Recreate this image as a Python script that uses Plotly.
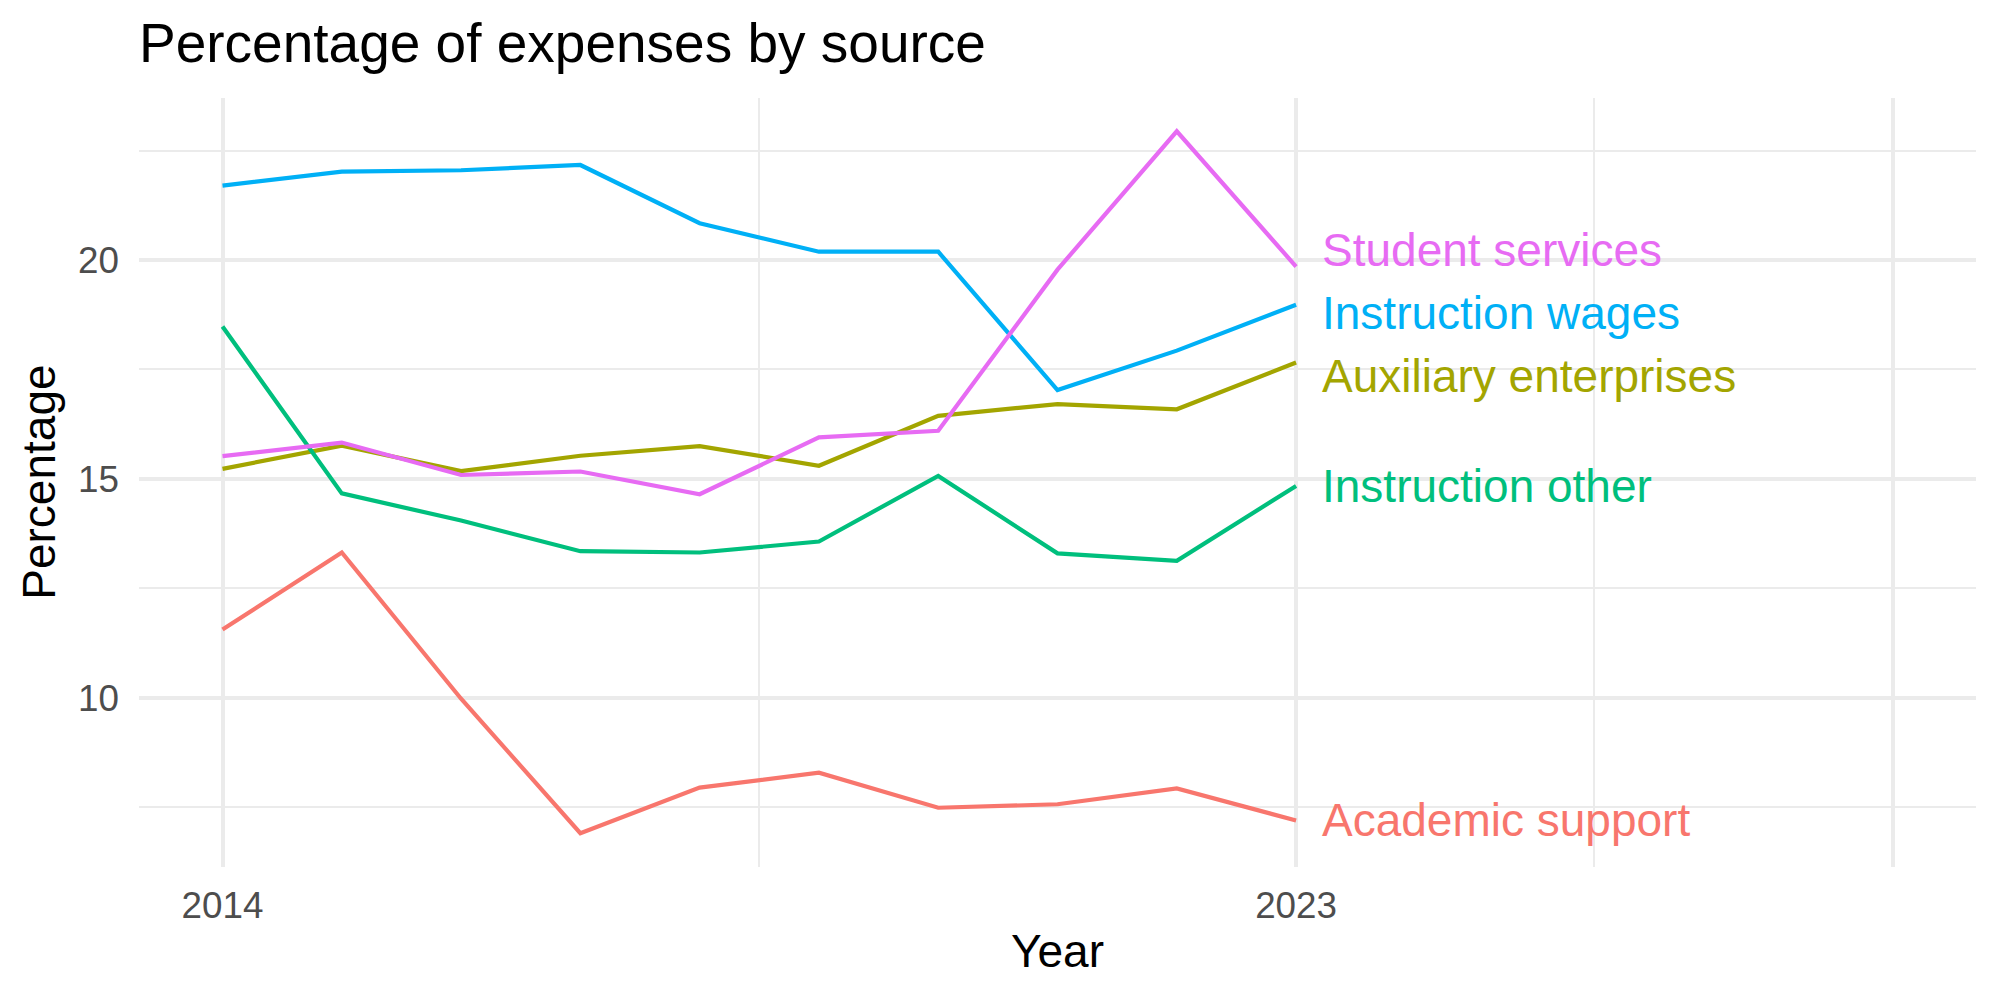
import plotly.graph_objects as go

# ---------------- data ----------------
years = [2014, 2015, 2016, 2017, 2018, 2019, 2020, 2021, 2022, 2023]

academic_support = [11.56, 13.32, 9.98, 6.91, 7.95, 8.29, 7.49, 7.57, 7.93, 7.20]
auxiliary_enterprises = [15.23, 15.76, 15.18, 15.53, 15.75, 15.30, 16.44, 16.71, 16.59, 17.66]
instruction_other = [18.48, 14.67, 14.05, 13.35, 13.32, 13.57, 15.07, 13.30, 13.13, 14.84]
instruction_wages = [21.70, 22.02, 22.05, 22.17, 20.84, 20.19, 20.19, 17.03, 17.93, 18.98]
student_services = [15.52, 15.83, 15.09, 15.17, 14.65, 15.95, 16.10, 19.78, 22.94, 19.85]

series_names = ["Academic support", "Auxiliary enterprises", "Instruction other",
                "Instruction wages", "Student services"]
series_values = [academic_support, auxiliary_enterprises, instruction_other,
                 instruction_wages, student_services]

x_tick_vals = [2014, 2023, 2028]
x_tick_text = ["2014", "2023", ""]
x_minor_vals = [2018.5, 2025.5]
y_tick_vals = [10, 15, 20]
y_tick_text = ["10", "15", "20"]
y_minor_vals = [7.5, 12.5, 17.5, 22.5]

# ---------------- styles ----------------
colors = ["#F8766D", "#A3A500", "#00BF7D", "#00B0F6", "#E76BF3"]
# vertical repel offsets of the direct labels (in data units)
label_nudge = [0.0, -0.31, 0.0, -0.18, 0.38]
label_x_offset = 0.2

FONT = "Liberation Sans, Arial, Helvetica, sans-serif"
W, H = 2000, 1000
L, R, T, B = 138.8, 2000 - 1976.0, 98.3, 1000 - 867.3
pw, ph = W - L - R, H - T - B


def px_x(px):
    return (px - L) / pw


def px_y(py):
    return (H - B - py) / ph


fig = go.Figure()
for name, vals, col in zip(series_names, series_values, colors):
    fig.add_trace(go.Scatter(x=years, y=vals, mode="lines", name=name,
                             line=dict(color=col, width=4.2), showlegend=False))

annotations = []
for name, vals, col, nud in zip(series_names, series_values, colors, label_nudge):
    annotations.append(dict(x=years[-1] + label_x_offset, y=vals[-1] + nud,
                            xref="x", yref="y", text=name, showarrow=False,
                            xanchor="left", yanchor="middle",
                            font=dict(family=FONT, size=46, color=col)))

annotations += [
    dict(text="Percentage of expenses by source", x=px_x(137), y=px_y(43),
         xref="paper", yref="paper", xanchor="left", yanchor="middle",
         showarrow=False, font=dict(family=FONT, size=55, color="black")),
    dict(text="Year", x=0.5, y=px_y(951), xref="paper", yref="paper",
         xanchor="center", yanchor="middle", showarrow=False,
         font=dict(family=FONT, size=46, color="black")),
    dict(text="Percentage", x=px_x(38), y=0.5, xref="paper", yref="paper",
         xanchor="center", yanchor="middle", textangle=-90, showarrow=False,
         font=dict(family=FONT, size=46, color="black")),
]

fig.update_layout(
    width=W, height=H,
    margin=dict(l=L, r=R, t=T, b=B, pad=0),
    paper_bgcolor="white", plot_bgcolor="white",
    annotations=annotations,
    xaxis=dict(range=[2013.3, 2028.7], tickmode="array", tickvals=x_tick_vals,
               ticktext=x_tick_text, showgrid=True, gridcolor="#EBEBEB",
               gridwidth=4, zeroline=False, showline=False, ticks="",
               ticklabelstandoff=13,
               tickfont=dict(family=FONT, size=36.8, color="#4D4D4D"),
               minor=dict(tickmode="array", tickvals=x_minor_vals, showgrid=True,
                          gridcolor="#EBEBEB", gridwidth=2, ticks="")),
    yaxis=dict(range=[6.137, 23.70], tickmode="array", tickvals=y_tick_vals,
               ticktext=y_tick_text, showgrid=True, gridcolor="#EBEBEB",
               gridwidth=4, zeroline=False, showline=False, ticks="",
               ticklabelstandoff=19,
               tickfont=dict(family=FONT, size=36.8, color="#4D4D4D"),
               minor=dict(tickmode="array", tickvals=y_minor_vals, showgrid=True,
                          gridcolor="#EBEBEB", gridwidth=2, ticks="")),
)

fig.write_html("out.html")
